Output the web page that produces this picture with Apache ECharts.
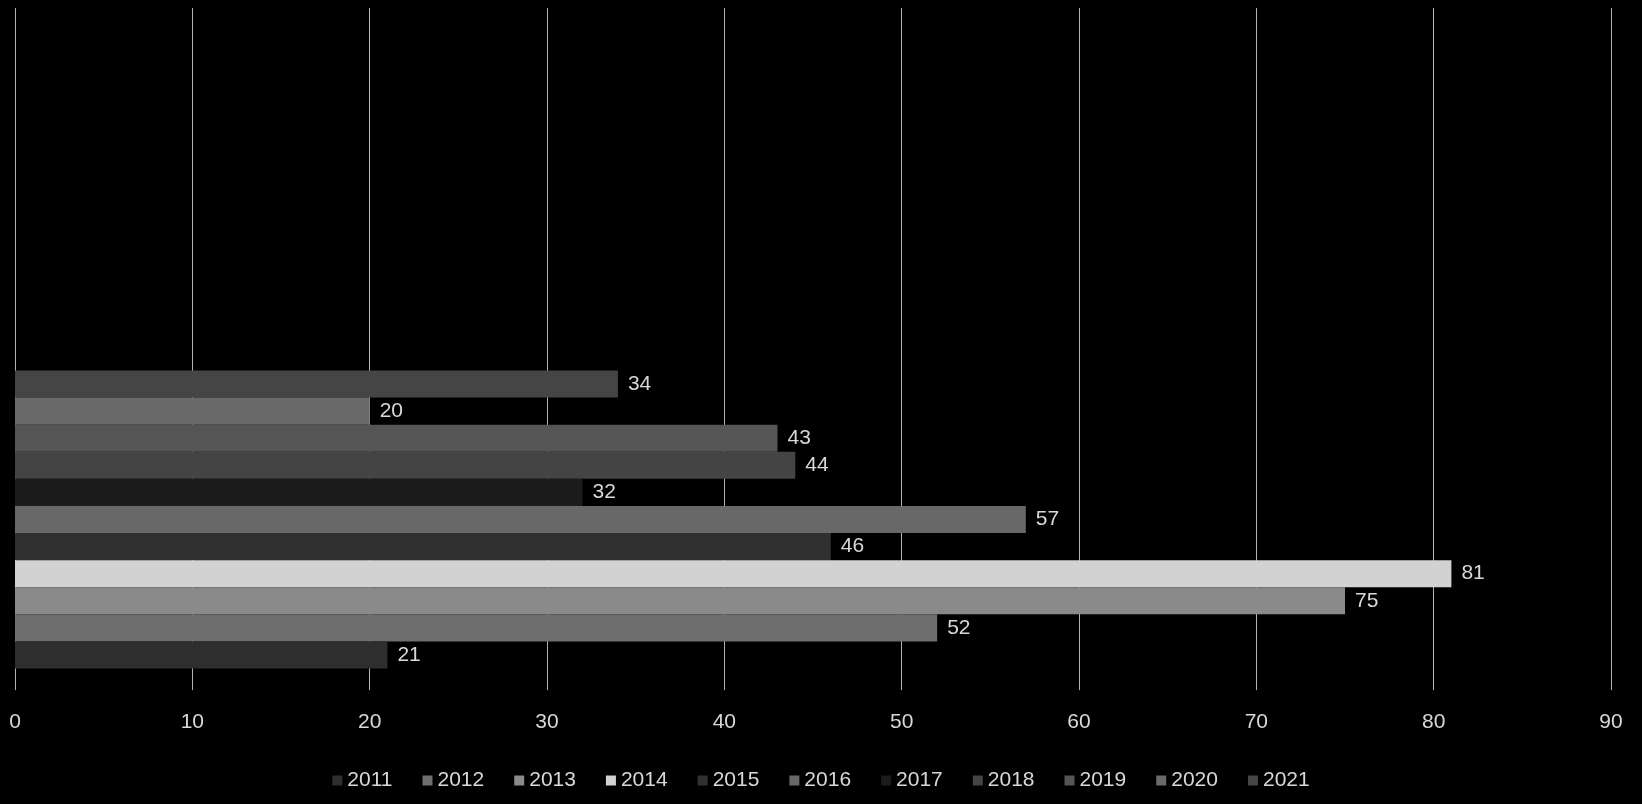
<!DOCTYPE html>
<html>
<head>
<meta charset="utf-8">
<style>
  html, body { margin: 0; padding: 0; background: #000; }
  #main { width: 1642px; height: 804px; }
</style>
<script src="https://cdn.jsdelivr.net/npm/echarts@6/dist/echarts.min.js"></script>
</head>
<body>
<div id="main"></div>
<script>
var years = ['2011', '2012', '2013', '2014', '2015', '2016', '2017', '2018', '2019', '2020', '2021'];
var values = [21, 52, 75, 81, 46, 57, 32, 44, 43, 20, 34];
var colors = ['#2e2e2e', '#6e6e6e', '#8a8a8a', '#d2d2d2', '#303030', '#686868',
              '#1c1c1c', '#444444', '#555555', '#6a6a6a', '#454545'];
var xTicks = [0, 10, 20, 30, 40, 50, 60, 70, 80, 90];

var chart = echarts.init(document.getElementById('main'));

var labelFont = 'Liberation Sans Narrow, Liberation Sans, sans-serif';

var series = years.map(function (y, i) {
  return {
    name: y,
    type: 'bar',
    barGap: '0%',
    barCategoryGap: '12.6%',
    itemStyle: { color: colors[i] },
    label: {
      show: true,
      position: 'right',
      distance: 10,
      color: '#d8d8d8',
      fontSize: 21,
      fontFamily: labelFont
    },
    // bars sit in the lower band, the upper band stays empty
    data: [values[i], null]
  };
});
// echarts stacks the first series at the top, the picture has 2011 at the bottom
series.reverse();

var option = {
  backgroundColor: '#000',
  animation: false,
  grid: { left: 15, right: 31, top: 8, bottom: 114, containLabel: false },
  legend: {
    data: years,
    bottom: 8,
    left: 'center',
    icon: 'rect',
    itemWidth: 10,
    itemHeight: 10,
    itemGap: 30,
    textStyle: { color: '#d8d8d8', fontSize: 21, fontFamily: labelFont }
  },
  xAxis: {
    type: 'value',
    min: xTicks[0],
    max: xTicks[xTicks.length - 1],
    interval: 10,
    axisLine: { show: false },
    axisTick: { show: false },
    splitLine: { show: true, lineStyle: { color: '#b4b4b4', width: 1 } },
    axisLabel: { color: '#d8d8d8', fontSize: 21, margin: 22, fontFamily: labelFont }
  },
  yAxis: {
    type: 'category',
    data: ['', ''],
    axisLine: { show: false },
    axisTick: { show: false },
    axisLabel: { show: false }
  },
  series: series
};

chart.setOption(option);
</script>
</body>
</html>
